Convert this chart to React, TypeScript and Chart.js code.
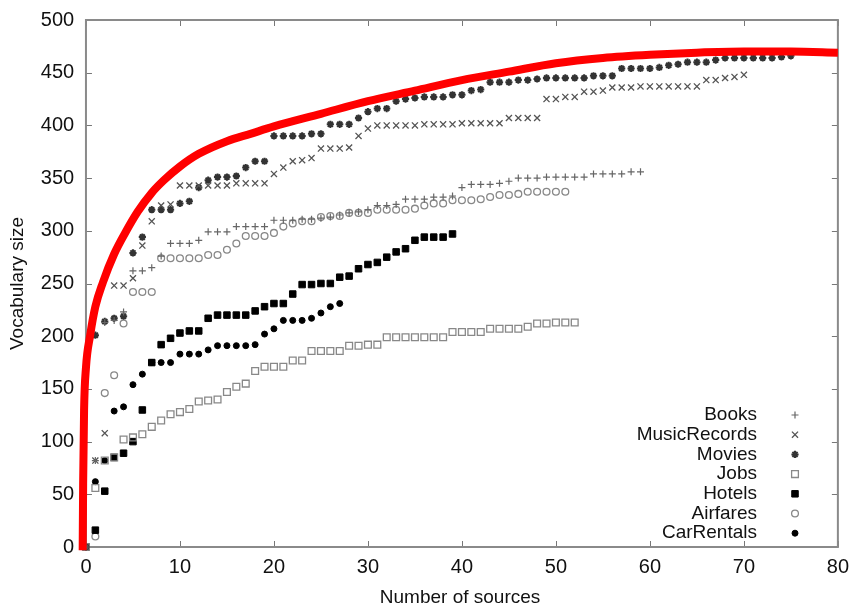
import React, { useEffect, useRef } from 'react';
import { Chart, registerables } from 'chart.js';

Chart.register(...registerables);

// ---- data (vocabulary size after n sources, n = 0,1,2,...) ----
const books = [0, 82, 213, 215, 223, 262, 262, 265, 276, 288, 288, 288, 291, 299, 299, 299, 304, 304, 304, 304,
  310, 310, 310, 311, 311, 312, 313, 315, 317, 318, 320, 324, 324, 325, 330, 330, 330, 332, 332, 333,
  341, 344, 344, 344, 345, 347, 350, 350, 350, 351, 351, 351, 351, 351, 354, 354, 354, 354, 356, 356];
const musicRecords = [0, 82, 108, 248, 248, 255, 286, 309, 324, 325, 343, 343, 343, 343, 343, 343, 345, 345, 345, 345,
  354, 360, 366, 367, 369, 378, 378, 378, 379, 390, 397, 400, 400, 400, 400, 400, 401, 401, 401, 401,
  402, 402, 402, 402, 402, 407, 407, 407, 407, 425, 425, 427, 427, 432, 432, 433, 436, 436, 436, 437,
  437, 437, 437, 437, 437, 437, 443, 443, 445, 446, 448];
const movies = [0, 201, 214, 217, 219, 279, 294, 320, 320, 320, 326, 328, 341, 348, 351, 351, 352, 360, 366, 366,
  390, 390, 390, 390, 392, 392, 401, 401, 401, 407, 413, 416, 416, 423, 425, 426, 427, 427, 427, 429,
  429, 433, 434, 441, 441, 441, 443, 443, 444, 445, 445, 445, 445, 445, 447, 447, 447, 454, 454, 454,
  454, 455, 457, 458, 460, 460, 460, 462, 464, 464, 464, 464, 464, 464, 465, 466];
const jobs = [0, 56, 82, 85, 102, 104, 107, 114, 120, 126, 128, 131, 138, 139, 140, 147, 152, 155, 167, 171,
  171, 171, 177, 177, 186, 186, 186, 186, 191, 191, 192, 192, 199, 199, 199, 199, 199, 199, 199, 204,
  204, 204, 204, 207, 207, 207, 207, 209, 212, 212, 213, 213, 213];
const hotels = [0, 16, 53, 85, 89, 100, 130, 175, 192, 198, 203, 205, 205, 217, 220, 220, 220, 220, 224, 228,
  231, 231, 240, 249, 249, 250, 250, 256, 257, 264, 268, 270, 275, 280, 283, 291, 294, 294, 294, 297];
const airfares = [0, 10, 146, 163, 212, 242, 242, 242, 274, 274, 274, 274, 274, 277, 277, 282, 288, 295, 295, 295,
  298, 304, 307, 309, 309, 313, 314, 314, 317, 317, 317, 320, 320, 320, 320, 321, 324, 326, 326, 329,
  329, 329, 330, 332, 334, 334, 335, 337, 337, 337, 337, 337];
const carRentals = [0, 62, 82, 129, 133, 154, 164, 175, 175, 175, 183, 183, 183, 187, 191, 191, 191, 191, 192, 202,
  207, 215, 215, 215, 217, 222, 228, 231];

// hand-drawn red envelope curve
const fitX = [-0.35, -0.3, -0.2, 0, 0.45, 1.0, 1.8, 3, 4.3, 5.5, 7, 8.3, 10, 12, 15, 17.5, 20, 25, 30, 35, 40, 45, 50, 55, 60, 65, 70, 75, 80];
const fitY = [-3, 60, 130, 170, 201, 228, 251, 278, 300, 318, 336, 348, 361, 373, 385, 392, 399, 411, 423, 433, 443, 451, 459, 464, 467, 469, 470, 470, 469];

const xTicks = [0, 10, 20, 30, 40, 50, 60, 70, 80];
const yTicks = [0, 50, 100, 150, 200, 250, 300, 350, 400, 450, 500];

const seriesLabels = ['Books', 'MusicRecords', 'Movies', 'Jobs', 'Hotels', 'Airfares', 'CarRentals'];
const seriesValues = [books, musicRecords, movies, jobs, hotels, airfares, carRentals];

type MarkerStyle = { style: string; radius: number; color: string; filled: boolean; bw: number };
const markerStyles: MarkerStyle[] = [
  { style: 'cross', radius: 3.5, color: '#666', filled: false, bw: 1.2 },
  { style: 'crossRot', radius: 4.3, color: '#555', filled: false, bw: 1.3 },
  { style: 'star', radius: 3.6, color: '#333', filled: false, bw: 2 },
  { style: 'rect', radius: 4.8, color: '#888', filled: false, bw: 1.3 },
  { style: 'rect', radius: 4.6, color: '#000', filled: true, bw: 1 },
  { style: 'circle', radius: 3.4, color: '#888', filled: false, bw: 1.3 },
  { style: 'circle', radius: 3.0, color: '#000', filled: true, bw: 1 },
];

const FONT = '"Liberation Sans", Arial, Helvetica, sans-serif';
const X_MIN = -0.4;

function drawMarker(ctx: CanvasRenderingContext2D, s: MarkerStyle, x: number, y: number) {
  const r = s.radius;
  ctx.save();
  ctx.strokeStyle = s.color;
  ctx.fillStyle = s.color;
  ctx.lineWidth = s.bw;
  ctx.beginPath();
  const o = r * Math.SQRT1_2;
  if (s.style === 'cross' || s.style === 'star') {
    ctx.moveTo(x - r, y); ctx.lineTo(x + r, y);
    ctx.moveTo(x, y - r); ctx.lineTo(x, y + r);
  }
  if (s.style === 'crossRot' || s.style === 'star') {
    ctx.moveTo(x - o, y - o); ctx.lineTo(x + o, y + o);
    ctx.moveTo(x - o, y + o); ctx.lineTo(x + o, y - o);
  }
  if (s.style === 'rect') {
    ctx.rect(x - o, y - o, 2 * o, 2 * o);
  }
  if (s.style === 'circle') {
    ctx.arc(x, y, r, 0, Math.PI * 2);
  }
  if (s.filled) ctx.fill();
  ctx.stroke();
  ctx.restore();
}

const framePlugin = {
  id: 'gnuplotFrame',
  beforeDatasetsDraw(chart: any) {
    const { ctx, chartArea } = chart;
    const { right, top, bottom } = chartArea;
    const xs = chart.scales.x;
    const ys = chart.scales.y;
    const left = xs.getPixelForValue(0);
    ctx.save();
    ctx.strokeStyle = '#777';
    ctx.lineWidth = 1;
    const tl = 6;
    ctx.beginPath();
    xTicks.forEach((v) => {
      const px = Math.round(xs.getPixelForValue(v)) + 0.5;
      ctx.moveTo(px, bottom); ctx.lineTo(px, bottom - tl);
      ctx.moveTo(px, top); ctx.lineTo(px, top + tl);
    });
    yTicks.forEach((v) => {
      const py = Math.round(ys.getPixelForValue(v)) + 0.5;
      ctx.moveTo(left, py); ctx.lineTo(left + tl, py);
      ctx.moveTo(right, py); ctx.lineTo(right - tl, py);
    });
    ctx.stroke();
    ctx.strokeStyle = '#8a8a8a';
    ctx.lineWidth = 2;
    ctx.strokeRect(left, top, right - left, bottom - top);
    ctx.restore();
  },
  afterDatasetsDraw(chart: any) {
    const { ctx } = chart;
    ctx.save();
    ctx.font = `19px ${FONT}`;
    ctx.fillStyle = '#111';
    ctx.textAlign = 'right';
    ctx.textBaseline = 'middle';
    const textRight = 757;
    const markerX = 795;
    const y0 = 415;
    const dy = 19.7;
    seriesLabels.forEach((lab, i) => {
      const y = y0 + i * dy;
      ctx.fillText(lab, textRight, y);
      drawMarker(ctx, markerStyles[i], markerX, y);
    });
    ctx.restore();
  },
};

export default function App() {
  const ref = useRef<HTMLCanvasElement | null>(null);
  useEffect(() => {
    document.body.style.margin = '0';
    const canvas = ref.current;
    if (!canvas) return;
    const datasets: any[] = [
      {
        label: 'fit',
        data: fitX.map((x, i) => ({ x, y: fitY[i] })),
        showLine: true,
        borderColor: '#ff0000',
        borderWidth: 8,
        pointRadius: 0,
        cubicInterpolationMode: 'monotone',
        clip: false,
        order: 0,
      },
    ];
    seriesValues.forEach((vals, i) => {
      const s = markerStyles[i];
      datasets.push({
        label: seriesLabels[i],
        data: vals.map((v, n) => ({ x: n, y: v })),
        showLine: false,
        pointStyle: s.style,
        pointRadius: s.radius,
        pointBorderWidth: s.bw,
        borderColor: s.color,
        backgroundColor: s.filled ? s.color : 'rgba(0,0,0,0)',
        pointBackgroundColor: s.filled ? s.color : 'rgba(0,0,0,0)',
        pointBorderColor: s.color,
        clip: 8,
        order: 1,
      });
    });
    const tickFont = { family: FONT, size: 20 };
    const chart = new Chart(canvas, {
      type: 'scatter',
      data: { datasets },
      plugins: [framePlugin],
      options: {
        animation: false,
        responsive: false,
        devicePixelRatio: 1,
        layout: { padding: { top: 14, right: 14, left: 0, bottom: 0 } },
        plugins: { legend: { display: false }, tooltip: { enabled: false } },
        scales: {
          x: {
            type: 'linear',
            min: X_MIN,
            max: 80,
            afterBuildTicks: (s: any) => { s.ticks = xTicks.map((v) => ({ value: v })); },
            ticks: { font: tickFont, color: '#111', padding: 8, maxRotation: 0, autoSkip: false },
            grid: { display: false, drawTicks: false },
            border: { display: false },
            title: { display: true, text: 'Number of sources', font: { family: FONT, size: 19, lineHeight: 1 }, color: '#111', padding: 0 },
            afterFit: (s: any) => { s.height = 60; },
          },
          y: {
            type: 'linear',
            min: 0,
            max: 500,
            afterBuildTicks: (s: any) => { s.ticks = yTicks.map((v) => ({ value: v })); },
            ticks: { font: tickFont, color: '#111', padding: 8, autoSkip: false },
            grid: { display: false, drawTicks: false },
            border: { display: false },
            title: { display: true, text: 'Vocabulary size', font: { family: FONT, size: 19, lineHeight: 1 }, color: '#111', padding: { top: 8, bottom: 0 } },
            afterFit: (s: any) => { s.width = 82.2; },
          },
        },
      } as any,
    });
    return () => chart.destroy();
  }, []);
  return <canvas ref={ref} width={857} height={607} style={{ display: 'block' }} />;
}
